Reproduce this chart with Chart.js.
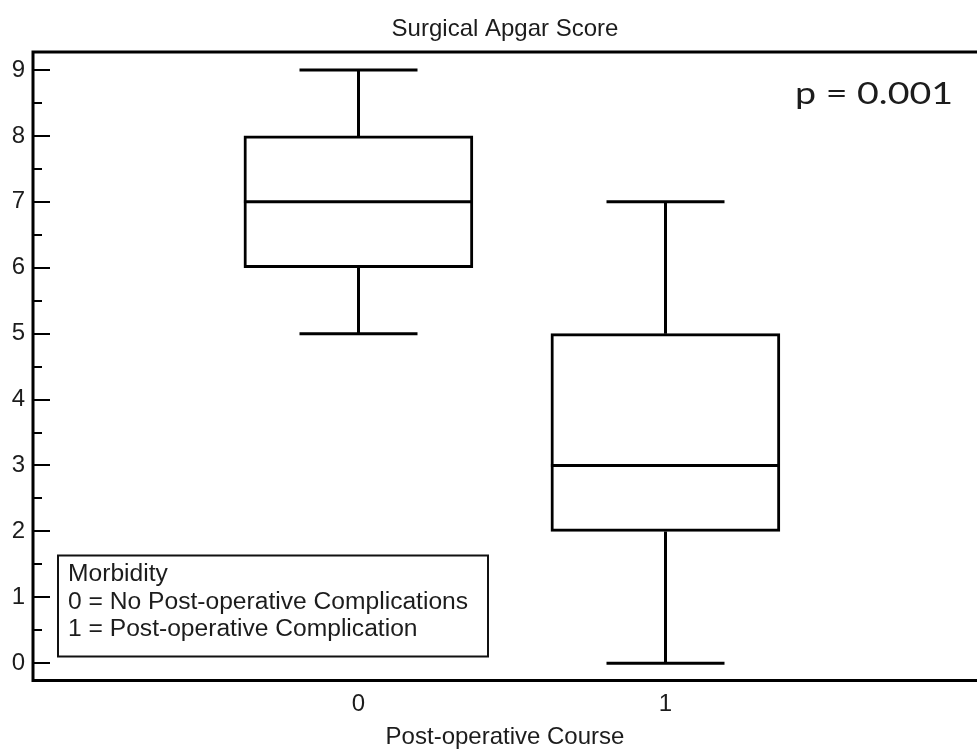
<!DOCTYPE html>
<html><head><meta charset="utf-8">
<script src="https://cdn.jsdelivr.net/npm/chart.js@4/dist/chart.umd.min.js"></script>
<style>html,body{margin:0;padding:0;background:#fff}#wrap{width:977px;height:749px}</style>
</head><body><div id="wrap"><canvas id="c" width="977" height="749"></canvas></div>
<script>
// ---- data ----
const categories = [0, 1];
const categoryLabels = ['0', '1'];
const whiskerLow = [5, 0];
const q1 = [6, 2];
const median = [7, 3];
const q3 = [8, 5];
const whiskerHigh = [9, 7];
const yTicks = [0, 1, 2, 3, 4, 5, 6, 7, 8, 9];
const yMinorTicks = [0.5, 1.5, 2.5, 3.5, 4.5, 5.5, 6.5, 7.5, 8.5];
const chartTitle = 'Surgical Apgar Score';
const xAxisTitle = 'Post-operative Course';
const legendTitle = 'Morbidity';
const legendLines = ['0 = No Post-operative Complications', '1 = Post-operative Complication'];
const pValueText = 'p = 0.001';

// ---- styles ----
const FONT = "'Liberation Sans', Arial, sans-serif";
const TXT = '#1c1c1c';
const capHalfPx = 59;

const decor = {
  id: 'decor',
  afterDatasetsDraw(chart) {
    const ctx = chart.ctx, xs = chart.scales.x, ys = chart.scales.y, ca = chart.chartArea;
    const meta = chart.getDatasetMeta(0);
    ctx.save();
    ctx.strokeStyle = '#000';
    ctx.lineCap = 'butt';
    categories.forEach((c, i) => {
      const x = Math.round(xs.getPixelForValue(c)) + 0.5;
      const bar = meta.data[i];
      const half = bar.width / 2;
      const yLo = ys.getPixelForValue(whiskerLow[i]);
      const yQ1 = ys.getPixelForValue(q1[i]);
      const yMed = ys.getPixelForValue(median[i]);
      const yQ3 = ys.getPixelForValue(q3[i]);
      const yHi = ys.getPixelForValue(whiskerHigh[i]);
      ctx.lineWidth = 3;
      ctx.beginPath();
      ctx.moveTo(x, yQ3); ctx.lineTo(x, yHi);
      ctx.moveTo(x, yQ1); ctx.lineTo(x, yLo);
      ctx.moveTo(x - capHalfPx, yHi); ctx.lineTo(x + capHalfPx, yHi);
      ctx.moveTo(x - capHalfPx, yLo); ctx.lineTo(x + capHalfPx, yLo);
      ctx.moveTo(bar.x - half, yMed); ctx.lineTo(bar.x + half, yMed);
      ctx.stroke();
    });
    // frame
    ctx.lineWidth = 3;
    ctx.lineCap = 'square';
    ctx.beginPath();
    ctx.moveTo(ca.right + 5, ca.top); ctx.lineTo(ca.left, ca.top);
    ctx.lineTo(ca.left, ca.bottom); ctx.lineTo(ca.right + 5, ca.bottom);
    ctx.stroke();
    // inward y ticks
    ctx.lineCap = 'butt';
    ctx.lineWidth = 2;
    ctx.beginPath();
    yTicks.forEach(v => { const y = Math.round(ys.getPixelForValue(v)); ctx.moveTo(ca.left, y); ctx.lineTo(ca.left + 17, y); });
    yMinorTicks.forEach(v => { const y = Math.round(ys.getPixelForValue(v)); ctx.moveTo(ca.left, y); ctx.lineTo(ca.left + 9, y); });
    ctx.stroke();
    // legend box
    ctx.lineWidth = 2;
    ctx.strokeStyle = '#111';
    ctx.strokeRect(58, 555.5, 430, 101);
    ctx.fillStyle = TXT;
    ctx.font = '23px ' + FONT;
    ctx.textBaseline = 'alphabetic';
    ctx.textAlign = 'left';
    [legendTitle].concat(legendLines).forEach((t, k) => {
      ctx.save();
      ctx.translate(68, 581 + k * 27.5);
      ctx.scale(1.07, 1);
      ctx.fillText(t, 0, 0);
      ctx.restore();
    });
    // p value
    ctx.font = "31px Lato, 'Open Sans', sans-serif";
    const w = ctx.measureText(pValueText).width;
    ctx.save();
    ctx.translate(795, 104);
    ctx.scale(158 / w, 1);
    ctx.fillText(pValueText, 0, 0);
    ctx.restore();
    ctx.restore();
  }
};

new Chart(document.getElementById('c'), {
  type: 'bar',
  data: {
    datasets: [{
      data: categories.map((c, i) => ({ x: c, y: [q1[i], q3[i]] })),
      backgroundColor: '#ffffff',
      borderColor: '#000000',
      borderWidth: 3,
      borderSkipped: false,
      barThickness: 229
    }]
  },
  options: {
    responsive: false,
    animation: false,
    devicePixelRatio: 1,
    layout: { padding: 0 },
    plugins: {
      legend: { display: false },
      tooltip: { enabled: false },
      title: {
        display: true, text: chartTitle, color: TXT, fullSize: false,
        font: { family: FONT, size: 24, weight: 'normal', lineHeight: 1.2 },
        padding: { top: 15, bottom: 8.2 }
      }
    },
    scales: {
      x: {
        type: 'linear', min: -1.060, max: 2.015, offset: false,
        grid: { display: false, drawTicks: false }, border: { display: false },
        afterBuildTicks: s => { s.ticks = categories.map(v => ({ value: v })); },
        afterFit: s => { s.height = 68.5; },
        ticks: {
          color: TXT, padding: 9, maxRotation: 0, autoSkip: false,
          font: { family: FONT, size: 24 },
          callback: v => categoryLabels[categories.indexOf(v)]
        },
        title: {
          display: true, text: xAxisTitle, color: TXT,
          font: { family: FONT, size: 24, lineHeight: 1 },
          padding: { top: 0, bottom: 0 }
        }
      },
      y: {
        type: 'linear', min: -0.262, max: 9.273,
        grid: { display: false, drawTicks: false }, border: { display: false },
        afterBuildTicks: s => { s.ticks = yTicks.map(v => ({ value: v })); },
        afterFit: s => { s.width = 33; },
        ticks: { color: TXT, padding: 8, font: { family: FONT, size: 24 } }
      }
    }
  },
  plugins: [decor]
});
</script></body></html>
